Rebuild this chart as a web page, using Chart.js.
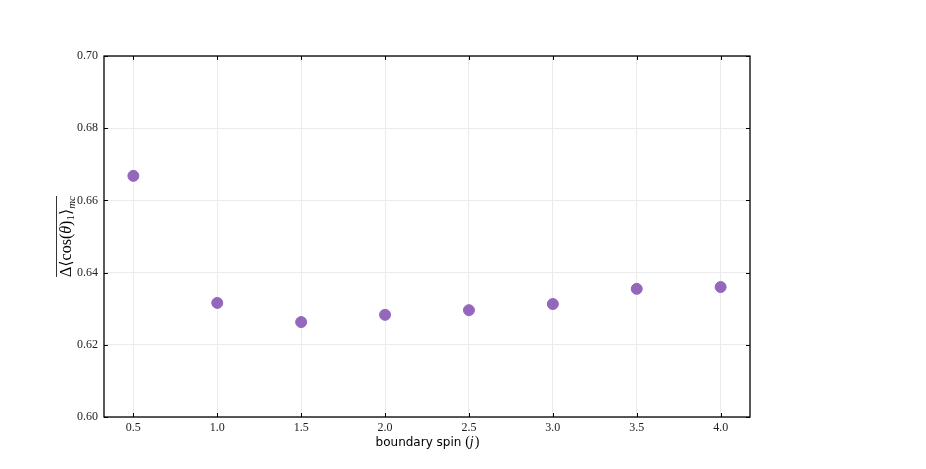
<!DOCTYPE html>
<html>
<head>
<meta charset="utf-8">
<script src="https://cdn.jsdelivr.net/npm/chart.js@4.4.0/dist/chart.umd.min.js"></script>
<style>
  html, body { margin: 0; padding: 0; background: #fff; }
  #wrap { width: 926px; height: 469px; }
</style>
</head>
<body>
<div id="wrap"><canvas id="myChart" width="926" height="469"></canvas></div>
<script>
// data
const spins = [0.5, 1.0, 1.5, 2.0, 2.5, 3.0, 3.5, 4.0];
const deltaCos = [0.6668, 0.6316, 0.6263, 0.6283, 0.6296, 0.6313, 0.6355, 0.6360];
const xTicks = [0.5, 1.0, 1.5, 2.0, 2.5, 3.0, 3.5, 4.0];
const yTicks = [0.60, 0.62, 0.64, 0.66, 0.68, 0.70];

const serif = '"Liberation Serif", "DejaVu Serif", serif';

// frame, inward ticks and axis titles
const framePlugin = {
    id: 'frame',
    afterDraw(chart) {
        const { ctx, chartArea: a, scales } = chart;
        ctx.save();
        ctx.strokeStyle = '#000';
        ctx.lineWidth = 1;
        xTicks.forEach(v => {
            const x = Math.round(scales.x.getPixelForValue(v)) + 0.5;
            ctx.beginPath();
            ctx.moveTo(x, a.bottom); ctx.lineTo(x, a.bottom - 4);
            ctx.moveTo(x, a.top); ctx.lineTo(x, a.top + 4);
            ctx.stroke();
        });
        yTicks.forEach(v => {
            const y = Math.round(scales.y.getPixelForValue(v)) + 0.5;
            ctx.beginPath();
            ctx.moveTo(a.left, y); ctx.lineTo(a.left + 4, y);
            ctx.moveTo(a.right, y); ctx.lineTo(a.right - 4, y);
            ctx.stroke();
        });
        ctx.lineWidth = 1.3;
        ctx.strokeRect(a.left, a.top, a.right - a.left, a.bottom - a.top);

        // x title
        ctx.fillStyle = '#000';
        ctx.textBaseline = 'alphabetic';
        const cx = (a.left + a.right) / 2;
        const part1 = 'boundary spin ';
        ctx.font = '12px "DejaVu Sans", sans-serif';
        const w1 = ctx.measureText(part1).width;
        ctx.font = '14px ' + serif;
        const w2 = ctx.measureText('()').width;
        ctx.font = 'italic 14px ' + serif;
        const w3 = ctx.measureText('j').width;
        let x0 = cx - (w1 + w2 + w3) / 2;
        const yb = 446;
        ctx.font = '12px "DejaVu Sans", sans-serif';
        ctx.fillText(part1, x0, yb); x0 += w1;
        ctx.font = '14px ' + serif;
        ctx.fillText('(', x0, yb); x0 += ctx.measureText('(').width;
        ctx.font = 'italic 14px ' + serif;
        ctx.fillText('j', x0, yb); x0 += w3 + 1;
        ctx.font = '14px ' + serif;
        ctx.fillText(')', x0, yb);

        // y title, rotated
        ctx.translate(71, (a.top + a.bottom) / 2);
        ctx.rotate(-Math.PI / 2);
        const pieces = [
            { t: '\u0394', f: '16px ' + serif, dy: 0 },
            { t: '\u27E8', f: '16px "DejaVu Serif", serif', dy: 0 },
            { t: 'cos(', f: '16px ' + serif, dy: 0 },
            { t: '\u03B8', f: 'italic 16px ' + serif, dy: 0 },
            { t: ')', f: '16px ' + serif, dy: 0 },
            { t: '1', f: '11px ' + serif, dy: 3 },
            { t: '\u27E9', f: '16px "DejaVu Serif", serif', dy: 0 },
            { t: 'mc', f: 'italic 11px ' + serif, dy: 4 }
        ];
        let total = 0;
        pieces.forEach(p => { ctx.font = p.f; p.w = ctx.measureText(p.t).width; total += p.w; });
        let px = -total / 2;
        pieces.forEach(p => {
            ctx.font = p.f;
            ctx.fillText(p.t, px, p.dy);
            px += p.w;
        });
        ctx.lineWidth = 0.8;
        ctx.beginPath();
        ctx.moveTo(-total / 2, -14.5);
        ctx.lineTo(total / 2, -14.5);
        ctx.stroke();
        ctx.restore();
    }
};

const ctx = document.getElementById('myChart').getContext('2d');
const myChart = new Chart(ctx, {
    type: 'scatter',
    data: {
        datasets: [{
            data: spins.map((s, i) => ({ x: s, y: deltaCos[i] })),
            backgroundColor: '#9467bd',
            borderColor: '#9467bd',
            pointRadius: 5.5,
            pointHoverRadius: 5.5
        }]
    },
    options: {
        responsive: false,
        animation: false,
        events: [],
        layout: { padding: { left: 0, top: 56, right: 176, bottom: 0 } },
        plugins: { legend: { display: false }, tooltip: { enabled: false } },
        scales: {
            x: {
                type: 'linear',
                min: 0.325,
                max: 4.175,
                afterBuildTicks: s => { s.ticks = xTicks.map(v => ({ value: v })); },
                afterFit: s => { s.height = 52; },
                grid: { color: '#ebebeb', drawTicks: false },
                border: { display: false },
                ticks: {
                    padding: 4,
                    color: '#222',
                    font: { family: serif, size: 12 },
                    callback: v => v.toFixed(1)
                }
            },
            y: {
                min: 0.60,
                max: 0.70,
                afterBuildTicks: s => { s.ticks = yTicks.map(v => ({ value: v })); },
                afterFit: s => { s.width = 104; },
                grid: { color: '#ebebeb', drawTicks: false },
                border: { display: false },
                ticks: {
                    padding: 6,
                    color: '#222',
                    font: { family: serif, size: 12 },
                    callback: v => v.toFixed(2)
                }
            }
        }
    },
    plugins: [framePlugin]
});
</script>
</body>
</html>
